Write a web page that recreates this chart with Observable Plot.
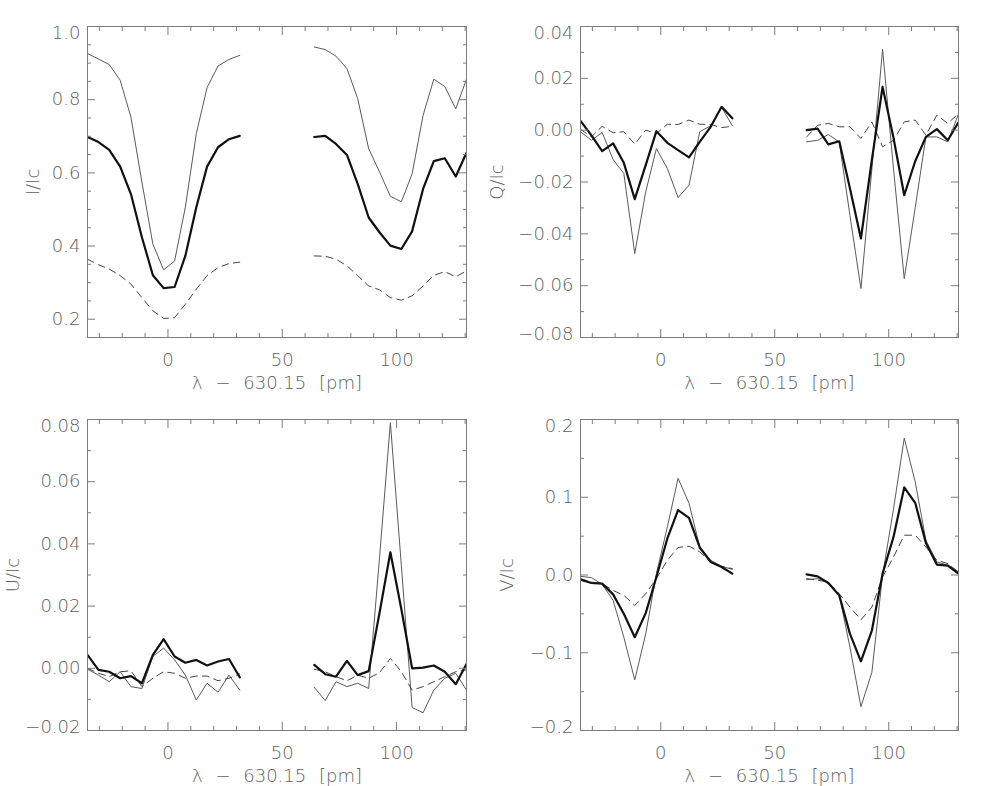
<!DOCTYPE html>
<html><head><meta charset="utf-8">
<script src="https://cdn.jsdelivr.net/npm/d3@7"></script>
<script src="https://cdn.jsdelivr.net/npm/@observablehq/plot@0.6"></script>
<style>
body{margin:0;background:#fff;}
#wrap{position:relative;width:984px;height:786px;overflow:hidden;background:#fff;}
#wrap svg{position:absolute;}
#wrap g[aria-label="x-axis label"]{word-spacing:7px;}
</style></head><body><div id="wrap"></div>
<script>
// wavelength offsets (pm) of the sampled points: two spectral windows
const wavelength = [-35.2,-30.4,-25.7,-20.9,-16.2,-11.4,-6.6,-1.9,2.9,7.6,12.4,17.1,21.9,26.7,31.4,
  64.0,68.8,73.5,78.3,83.0,87.8,92.6,97.3,102.1,106.8,111.6,116.3,121.1,125.9,130.6];

// Stokes I/Ic
const iThick = [0.698,0.684,0.663,0.617,0.542,0.424,0.320,0.285,0.288,0.373,0.506,0.617,0.670,0.692,0.701,
  0.698,0.701,0.679,0.649,0.570,0.478,0.437,0.401,0.392,0.440,0.556,0.632,0.640,0.590,0.655];
const iThin = [0.926,0.911,0.896,0.853,0.752,0.575,0.405,0.335,0.359,0.506,0.707,0.833,0.892,0.910,0.921,
  0.944,0.937,0.919,0.885,0.803,0.666,0.602,0.536,0.521,0.597,0.757,0.856,0.836,0.775,0.856];
const iDashed = [0.364,0.349,0.337,0.319,0.296,0.259,0.223,0.202,0.204,0.241,0.282,0.319,0.341,0.352,0.356,
  0.373,0.372,0.364,0.346,0.319,0.291,0.280,0.259,0.252,0.264,0.291,0.320,0.330,0.316,0.332];

// Stokes Q/Ic
const qThick = [0.0036,-0.0020,-0.0081,-0.0051,-0.0126,-0.0266,-0.0135,-0.0004,-0.0049,-0.0077,-0.0105,-0.0045,0.0013,0.0090,0.0046,
  0.0000,0.0006,-0.0055,-0.0043,-0.0225,-0.0418,-0.0115,0.0167,-0.0030,-0.0251,-0.0120,-0.0026,0.0004,-0.0039,0.0030];
const qThin = [-0.0006,-0.0039,-0.0009,-0.0113,-0.0167,-0.0476,-0.0238,-0.0071,-0.0148,-0.0260,-0.0212,-0.0006,0.0017,0.0088,0.0017,
  -0.0045,-0.0039,-0.0017,-0.0045,-0.0330,-0.0611,-0.0150,0.0312,-0.0150,-0.0573,-0.0300,-0.0026,-0.0026,-0.0045,0.0062];
const qDashed = [0.0003,-0.0026,0.0015,-0.0010,-0.0006,-0.0054,0.0000,-0.0013,0.0023,0.0022,0.0039,0.0023,0.0022,0.0010,0.0015,
  -0.0026,0.0019,0.0026,0.0013,0.0013,-0.0032,0.0032,-0.0064,-0.0039,0.0032,0.0039,-0.0019,0.0058,0.0026,0.0064];

// Stokes U/Ic
const uThick = [0.0043,-0.0005,-0.0011,-0.0032,-0.0025,-0.0048,0.0043,0.0094,0.0038,0.0018,0.0027,0.0009,0.0022,0.0030,-0.0029,
  0.0011,-0.0019,-0.0027,0.0024,-0.0022,-0.0009,0.0180,0.0373,0.0190,0.0000,0.0002,0.0009,-0.0011,-0.0051,0.0014];
const uThin = [-0.0003,-0.0022,-0.0043,-0.0011,-0.0059,-0.0065,0.0038,0.0065,0.0027,-0.0022,-0.0102,-0.0048,-0.0077,-0.0022,-0.0070,
  -0.0061,-0.0104,-0.0043,-0.0059,-0.0048,-0.0065,0.0360,0.0790,0.0330,-0.0126,-0.0143,-0.0070,-0.0032,-0.0016,-0.0070];
const uDashed = [0.0000,-0.0016,-0.0027,-0.0011,-0.0008,-0.0059,-0.0032,-0.0011,-0.0016,-0.0032,-0.0025,-0.0025,-0.0040,-0.0032,-0.0018,
  -0.0003,-0.0011,-0.0027,-0.0040,-0.0022,-0.0032,-0.0014,0.0032,-0.0011,-0.0070,-0.0059,-0.0043,-0.0027,-0.0011,-0.0005];

// Stokes V/Ic
const vThick = [-0.0060,-0.0103,-0.0111,-0.0249,-0.0498,-0.0800,-0.0490,-0.0026,0.0470,0.0835,0.0735,0.0354,0.0168,0.0103,0.0018,
  0.0009,-0.0017,-0.0103,-0.0262,-0.0757,-0.1110,-0.0714,0.0018,0.0490,0.1127,0.0929,0.0413,0.0134,0.0121,0.0018];
const vThin = [-0.0017,-0.0034,-0.0120,-0.0326,-0.0800,-0.1350,-0.0757,0.0018,0.0619,0.1244,0.0921,0.0361,0.0190,0.0112,0.0073,
  -0.0060,-0.0047,-0.0090,-0.0262,-0.0929,-0.1694,-0.1252,0.0000,0.0850,0.1760,0.1200,0.0448,0.0168,0.0125,0.0039];
const vDashed = [-0.0047,-0.0090,-0.0111,-0.0198,-0.0262,-0.0391,-0.0241,-0.0047,0.0190,0.0354,0.0370,0.0297,0.0168,0.0112,0.0082,
  -0.0047,-0.0068,-0.0090,-0.0241,-0.0413,-0.0576,-0.0413,-0.0026,0.0232,0.0512,0.0512,0.0361,0.0190,0.0147,0.0039];

// axis ticks
const xDomain = [-35.2, 130.6];
const xMajorTicks = [0, 50, 100];
const xMinorTicks = [-30,-20,-10,10,20,30,40,60,70,80,90,110,120,130];
const xLabel = "λ − 630.15 [pm]";

const iDomain = [0.15, 1.0], iMajor = [0.2,0.4,0.6,0.8,1.0], iMinor = [0.25,0.3,0.35,0.45,0.5,0.55,0.65,0.7,0.75,0.85,0.9,0.95];
const qDomain = [-0.08, 0.04], qMajor = [-0.08,-0.06,-0.04,-0.02,0,0.02,0.04], qMinor = [-0.07,-0.05,-0.03,-0.01,0.01,0.03];
const uDomain = [-0.02, 0.08], uMajor = [-0.02,0,0.02,0.04,0.06,0.08], uMinor = [-0.01,0.01,0.03,0.05,0.07];
const vDomain = [-0.2, 0.2], vMajor = [-0.2,-0.1,0,0.1,0.2], vMinor = [-0.15,-0.05,0.05,0.15];

const panels = [
  {label:"I/Ic", thick:iThick, thin:iThin, dashed:iDashed, domain:iDomain, major:iMajor, minor:iMinor, fmt:".1f", left:0, top:0, ml:87, lo:61},
  {label:"Q/Ic", thick:qThick, thin:qThin, dashed:qDashed, domain:qDomain, major:qMajor, minor:qMinor, fmt:".2f", left:492, top:0, ml:88, lo:90},
  {label:"U/Ic", thick:uThick, thin:uThin, dashed:uDashed, domain:uDomain, major:uMajor, minor:uMinor, fmt:".2f", left:0, top:393, ml:87, lo:81},
  {label:"V/Ic", thick:vThick, thin:vThin, dashed:vDashed, domain:vDomain, major:vMajor, minor:vMinor, fmt:".1f", left:492, top:393, ml:88, lo:80}
];

const axisColor = "#7d7d7d";
const textColor = "#5e5e5e";
const wrap = document.getElementById("wrap");

for (const p of panels) {
  const rows = wavelength.map((x, i) => ({
    x, thick: p.thick[i], thin: p.thin[i], dashed: p.dashed[i],
    line: x < 50 ? "Fe I 630.15" : "Fe I 630.25"
  }));
  const f = d3.format(p.fmt);
  const atBottom = p.major.filter(v => v === p.domain[0]);
  const atTop = p.major.filter(v => v === p.domain[1]);
  const inner = p.major.filter(v => v !== p.domain[0] && v !== p.domain[1]);
  const yText = {anchor: "left", tickSize: 0, tickPadding: 7, tickFormat: f, fill: textColor, label: null};
  const inX = (ticks, anchor, len) => Plot.axisX({ticks, anchor, tickSize: len, dy: anchor === "top" ? len : -len, fill: "none", stroke: axisColor});
  const inY = (ticks, anchor, len) => Plot.axisY({ticks, anchor, tickSize: len, dx: anchor === "left" ? len : -len, fill: "none", stroke: axisColor});
  const chart = Plot.plot({
    width: 492, height: 393,
    marginLeft: p.ml, marginRight: 26, marginTop: 26, marginBottom: 56,
    x: {domain: xDomain},
    y: {domain: p.domain},
    style: {fontFamily: "'DejaVu Sans', sans-serif", fontSize: "18px", fontWeight: 200, color: textColor, background: "transparent", overflow: "visible"},
    marks: [
      Plot.line(rows, {x: "x", y: "thin", z: "line", stroke: "#5a5a5a", strokeWidth: 1, clip: true}),
      Plot.line(rows, {x: "x", y: "dashed", z: "line", stroke: "#444", strokeWidth: 1, strokeDasharray: "7,5", clip: true}),
      Plot.line(rows, {x: "x", y: "thick", z: "line", stroke: "#111", strokeWidth: 2.2, clip: true}),
      Plot.frame({stroke: axisColor, strokeWidth: 1}),
      // labels
      Plot.axisX({ticks: xMajorTicks, anchor: "bottom", tickSize: 0, tickPadding: 16, tickFormat: d => String(d), fill: textColor,
        label: xLabel, labelAnchor: "center", labelOffset: 51, labelArrow: "none"}),
      Plot.axisY({...yText, ticks: inner, label: p.label, labelAnchor: "center", labelOffset: p.lo, labelArrow: "none"}),
      Plot.axisY({...yText, ticks: atTop, dy: 6.5}),
      Plot.axisY({...yText, ticks: atBottom, dy: -3}),
      // inward ticks, all four sides
      inX(xMajorTicks, "bottom", 8), inX(xMinorTicks, "bottom", 4),
      inX(xMajorTicks, "top", 8), inX(xMinorTicks, "top", 4),
      inY(p.major, "left", 8), inY(p.minor, "left", 4),
      inY(p.major, "right", 8), inY(p.minor, "right", 4)
    ]
  });
  chart.style.left = p.left + "px";
  chart.style.top = p.top + "px";
  wrap.appendChild(chart);
}
</script>
</body></html>
